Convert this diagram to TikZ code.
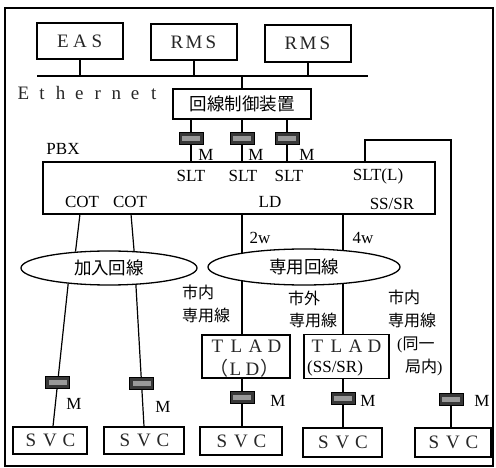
\documentclass[tikz,border=0pt]{standalone}
\usepackage{fontspec}
\setmainfont{Liberation Serif}
\newfontfamily\jp{Noto Sans CJK JP}
\usetikzlibrary{shapes.geometric}
\newcommand{\fwc}[2][17pt]{\makebox[#1]{#2}}
\begin{document}
\begin{tikzpicture}[x=1pt,y=-1pt,
  box/.style={draw, line width=1.3pt, inner sep=0pt},
  lbl/.style={font=\fontsize{17}{19}\selectfont, inner sep=0pt},
  spc/.style={font=\fontsize{19}{21}\selectfont, inner sep=0pt, text=black!85},
  jl/.style={font=\jp\fontsize{17.5}{19}\selectfont, inner sep=0pt},
  js/.style={font=\jp\fontsize{16}{18}\selectfont, inner sep=0pt},
  conn/.style={line width=1.2pt},
  oval/.style={ellipse, draw, line width=1.3pt, fill=white, inner sep=0pt},
  modem/.style={draw=black, line width=0.6pt, fill=black!78, minimum width=24pt, minimum height=12pt, inner sep=0pt,
    path picture={\fill[black!40] ([shift={(3pt,-3.5pt)}]path picture bounding box.north west) rectangle ([shift={(-3pt,3.5pt)}]path picture bounding box.south east);}}
]
\useasboundingbox (0,0) rectangle (496,468);
\draw[line width=1.2pt] (5,8) rectangle (493,466);
\draw[line width=2pt] (5,8) -- (493,8);

% top row
\node[box, spc, minimum width=86pt, minimum height=36pt] (eas) at (80,41) {\fwc{E}\fwc{A}\fwc{S}};
\node[box, spc, minimum width=86pt, minimum height=36pt] (rms1) at (194,42) {\fwc{R}\fwc{M}\fwc{S}};
\node[box, spc, minimum width=86pt, minimum height=37pt] (rms2) at (308,43.5) {\fwc{R}\fwc{M}\fwc{S}};
\coordinate (ethL) at (37,76);
\coordinate (ethR) at (368,76);
\draw[conn] (ethL) -- (ethR);
\draw[conn] (eas.south) -- (eas.south |- ethL);
\draw[conn] (rms1.south) -- (rms1.south |- ethL);
\draw[conn] (rms2.south) -- (rms2.south |- ethL);
\node[spc, anchor=west] (eth) at (14,93) {\fwc[18.6pt]{E}\fwc[18.6pt]{t}\fwc[18.6pt]{h}\fwc[18.6pt]{e}\fwc[18.6pt]{r}\fwc[18.6pt]{n}\fwc[18.6pt]{e}\fwc[18.6pt]{t}};

\node[box, jl, minimum width=138pt, minimum height=30pt] (ctrl) at (242,104) {回線制御装置};
\draw[conn] (ctrl.north) -- (ctrl.north |- ethL);

% PBX
\node[box, minimum width=392pt, minimum height=52pt] (pbx) at (239,188) {};
\node[lbl] (pbxl) at (63,149) {PBX};
\coordinate (k1) at (191,0);
\coordinate (k2) at (242,0);
\coordinate (k3) at (287,0);
\draw[conn] (ctrl.south -| k1) -- node[modem, pos=0.45] (md1) {} (pbx.north -| k1);
\draw[conn] (ctrl.south -| k2) -- node[modem, pos=0.45] (md2) {} (pbx.north -| k2);
\draw[conn] (ctrl.south -| k3) -- node[modem, pos=0.45] (md3) {} (pbx.north -| k3);
\node[lbl] (m1) at (206,155) {M};
\node[lbl] (m2) at (256,155) {M};
\node[lbl] (m3) at (307,155) {M};
\node[lbl] (slt1) at (191,176) {SLT};
\node[lbl] (slt2) at (243,176) {SLT};
\node[lbl] (slt3) at (289,176) {SLT};
\node[lbl] (sltl) at (378,176) {SLT(L)};
\node[lbl] (cot1) at (82,202) {COT};
\node[lbl] (cot2) at (130,202) {COT};
\node[lbl] (ld) at (270,202) {LD};
\node[lbl] (sssr) at (392,204) {SS/SR};

% bottom boxes
\node[box, spc, minimum width=74pt, minimum height=27pt] (s1) at (50,440.5) {\fwc[19pt]{S}\fwc[19pt]{V}\fwc[19pt]{C}};
\node[box, spc, minimum width=80pt, minimum height=27pt] (s2) at (144,440.5) {\fwc[19pt]{S}\fwc[19pt]{V}\fwc[19pt]{C}};
\node[box, spc, minimum width=82pt, minimum height=28pt] (s3) at (241,441) {\fwc[19pt]{S}\fwc[19pt]{V}\fwc[19pt]{C}};
\node[box, spc, minimum width=79pt, minimum height=29pt] (s4) at (342.5,442.5) {\fwc[19pt]{S}\fwc[19pt]{V}\fwc[19pt]{C}};
\node[box, spc, minimum width=76pt, minimum height=29pt] (s5) at (453,442.5) {\fwc[19pt]{S}\fwc[19pt]{V}\fwc[19pt]{C}};

% TLAD boxes
\node[box, minimum width=88pt, minimum height=43pt] (t1) at (246,356.5) {};
\node[box, minimum width=85pt, minimum height=44pt] (t2) at (346.5,356.5) {};
\node[spc] (t1a) at (246,346) {\fwc[19pt]{T}\fwc[19pt]{L}\fwc[19pt]{A}\fwc[19pt]{D}};
\node[spc] (t1b) at (244,368) {\fwc{\jp （}\fwc{L}\fwc{D}\fwc{\jp ）}};
\node[spc] (t2a) at (346,346) {\fwc[19pt]{T}\fwc[19pt]{L}\fwc[19pt]{A}\fwc[19pt]{D}};
\node[lbl, anchor=west] (t2b) at (307,368) {(SS/SR)};

% leased lines
\coordinate (kL) at (242,0);
\coordinate (kS) at (343,0);
\draw[conn] (pbx.south -| kL) -- (t1.north -| kL);
\draw[conn] (pbx.south -| kS) -- (t2.north -| kS);
\draw[conn] (t1.south -| kL) -- node[modem, pos=0.4] (md4) {} (s3.north -| kL);
\draw[conn] (t2.south -| kS) -- node[modem, pos=0.4] (md5) {} (s4.north -| kS);
\node[oval, jl, minimum width=192pt, minimum height=36pt] (e2) at (304,267) {専用回線};
\node[lbl] (w2) at (260,238) {2w};
\node[lbl] (w4) at (363,238) {4w};

% subscriber lines
\node[oval, jl, minimum width=176pt, minimum height=34pt] (e1) at (109,268) {加入回線};
\coordinate (c1) at (80,214);
\coordinate (c2) at (131,214);
\draw[conn] (c1) -- (e1.154);
\draw[conn] (c2) -- (e1.34);
\draw[conn] (e1.201) -- node[modem, pos=0.694] (md6) {} ([xshift=3pt]s1.north);
\draw[conn] (e1.328) -- node[modem, pos=0.697] (md7) {} (s2.north);
\node[lbl] (m6) at (74,404) {M};
\node[lbl] (m7) at (163,407) {M};
\node[lbl] (m4) at (278,401) {M};
\node[lbl] (m5) at (368,401) {M};

% SLT(L) route
\coordinate (kR) at (365,140);
\coordinate (kC) at (451,140);
\draw[conn] (pbx.north -| kR) -- (kR) -- (kC) -- node[modem, pos=0.903] (md8) {} (s5.north -| kC);
\node[lbl] (m8) at (482,401) {M};

% labels
\node[js, anchor=west] (a1) at (182,292) {市内};
\node[js, anchor=west] (a2) at (182,315) {専用線};
\node[js, anchor=west] (b1) at (288,298) {市外};
\node[js, anchor=west] (b2) at (289,320) {専用線};
\node[js, anchor=west] (c1t) at (388,297) {市内};
\node[js, anchor=west] (c2t) at (388,320) {専用線};
\node[js, anchor=west] (c3t) at (397,345) {\rmfamily(\jp 同一};
\node[js, anchor=west] (c4t) at (405,367) {局内\rmfamily)};
\end{tikzpicture}
\end{document}
